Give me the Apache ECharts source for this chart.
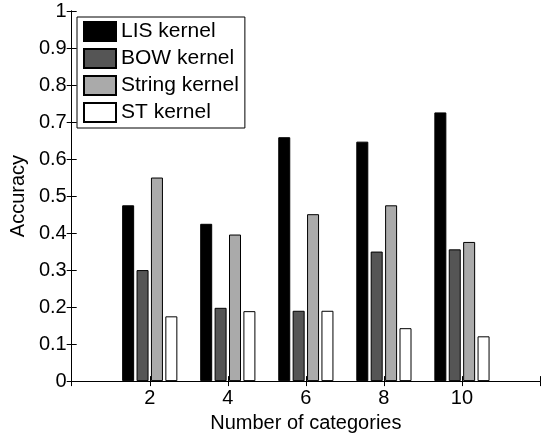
<!DOCTYPE html>
<html>
<head>
<meta charset="utf-8">
<script src="https://cdn.jsdelivr.net/npm/echarts@6/dist/echarts.min.js"></script>
<style>
  html, body { margin: 0; padding: 0; background: #fff; }
  #chart { width: 543px; height: 438px; }
</style>
</head>
<body>
<div id="chart"></div>
<script>
// Accuracy of each kernel for a given number of categories
var categories = [2, 4, 6, 8, 10];
var lisKernel = [0.475, 0.425, 0.659, 0.647, 0.726];
var bowKernel = [0.300, 0.198, 0.190, 0.350, 0.356];
var stringKernel = [0.550, 0.396, 0.451, 0.475, 0.376];
var stKernel = [0.175, 0.189, 0.190, 0.143, 0.121];
var yTicks = [0, 0.1, 0.2, 0.3, 0.4, 0.5, 0.6, 0.7, 0.8, 0.9, 1];

var seriesDefs = [
  { name: 'LIS kernel', values: lisKernel, color: '#000000' },
  { name: 'BOW kernel', values: bowKernel, color: '#555555' },
  { name: 'String kernel', values: stringKernel, color: '#aaaaaa' },
  { name: 'ST kernel', values: stKernel, color: '#ffffff' }
];

var font = 'Liberation Sans, Arial, Helvetica, sans-serif';

function pairs(vals) {
  return categories.map(function (c, i) { return [c, vals[i]]; });
}

function yLabel(v) {
  var t = yTicks.filter(function (k) { return Math.abs(k - v) < 1e-9; });
  return t.length ? String(Math.round(v * 10) / 10) : '';
}

var chart = echarts.init(document.getElementById('chart'), null, { renderer: 'canvas' });

var axisLine = { show: true, lineStyle: { color: '#000', width: 1 } };
var tickIn = { show: true, inside: true, length: 5, lineStyle: { color: '#000', width: 1 } };

chart.setOption({
  animation: false,
  backgroundColor: '#ffffff',
  textStyle: { fontFamily: font },
  grid: { left: 71, top: 11, width: 476, height: 376, containLabel: false },
  legend: {
    orient: 'vertical',
    left: 77,
    top: 17,
    padding: [4, 6, 5, 6],
    itemWidth: 32,
    itemHeight: 19,
    itemGap: 6,
    borderColor: '#000',
    borderWidth: 1,
    backgroundColor: '#fff',
    textStyle: { fontFamily: font, fontSize: 21, color: '#000' },
    icon: 'rect',
    data: seriesDefs.map(function (s) { return s.name; })
  },
  xAxis: [
    {
      type: 'value',
      position: 'bottom',
      min: 0, max: 12, interval: 2,
      name: 'Number of categories',
      nameLocation: 'middle',
      nameGap: 25,
      nameTextStyle: { fontFamily: font, fontSize: 20, color: '#000' },
      axisLine: axisLine,
      axisTick: tickIn,
      splitLine: { show: false },
      axisLabel: {
        margin: 7,
        fontFamily: font, fontSize: 20, color: '#000',
        formatter: function (v) { return categories.indexOf(v) >= 0 ? String(v) : ''; }
      }
    },
    {
      type: 'value',
      position: 'top',
      min: 0, max: 12, interval: 2,
      axisLine: axisLine,
      axisTick: tickIn,
      splitLine: { show: false },
      axisLabel: { show: false }
    }
  ],
  yAxis: [
    {
      type: 'value',
      position: 'left',
      min: 0, max: 1, interval: 0.1,
      name: 'Accuracy',
      nameLocation: 'middle',
      nameGap: 39,
      nameTextStyle: { fontFamily: font, fontSize: 20, color: '#000' },
      axisLine: axisLine,
      axisTick: tickIn,
      splitLine: { show: false },
      axisLabel: { margin: 5, fontFamily: font, fontSize: 20, color: '#000', formatter: yLabel }
    },
    {
      type: 'value',
      position: 'right',
      min: 0, max: 1, interval: 0.1,
      axisLine: axisLine,
      axisTick: tickIn,
      splitLine: { show: false },
      axisLabel: { show: false }
    }
  ],
  series: seriesDefs.map(function (s) {
    return {
      type: 'bar',
      name: s.name,
      xAxisIndex: 0,
      yAxisIndex: 0,
      barWidth: 12,
      barGap: '20%',
      itemStyle: { color: s.color, borderColor: '#000', borderWidth: 1 },
      data: pairs(s.values)
    };
  })
});
</script>
</body>
</html>
